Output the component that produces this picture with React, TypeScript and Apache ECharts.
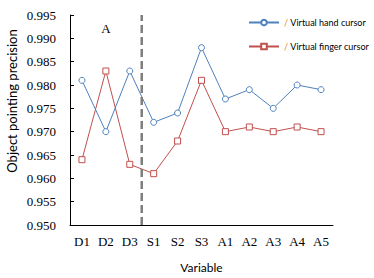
import React, { useEffect, useRef } from "react";
import * as echarts from "echarts";

const categories = ["D1", "D2", "D3", "S1", "S2", "S3", "A1", "A2", "A3", "A4", "A5"];
const handCursor = [0.981, 0.970, 0.983, 0.972, 0.974, 0.988, 0.977, 0.979, 0.975, 0.980, 0.979];
const fingerCursor = [0.964, 0.983, 0.963, 0.961, 0.968, 0.981, 0.970, 0.971, 0.970, 0.971, 0.970];
const seriesNames = ["Virtual hand cursor", "Virtual finger cursor"];
const dividerAt = 3; // boundary between D3 and S1 (category count)
const yMin = 0.95;
const yMax = 0.995;
const yStep = 0.005;

export default function App() {
  const ref = useRef<HTMLDivElement>(null);
  useEffect(() => {
    if (!ref.current) return;
    const chart = echarts.init(ref.current, null, { renderer: "svg" });
    const serif = "Liberation Serif";
    const sans = "Lato";
    chart.setOption({
      animation: false,
      backgroundColor: "#ffffff",
      grid: { left: 70, right: 41, top: 15, bottom: 48 },
      legend: {
        data: seriesNames,
        orient: "vertical",
        left: 248,
        top: 18,
        padding: 0,
        itemWidth: 30,
        itemHeight: 7,
        itemGap: 15,
        formatter: (name: string) => `{s|/} {t|${name}}`,
        textStyle: {
          fontFamily: sans,
          fontSize: 9,
          color: "#000",
          rich: {
            s: { color: "#e08a1e", fontFamily: sans, fontSize: 9 },
            t: { color: "#000", fontFamily: sans, fontSize: 9 },
          },
        },
      },
      graphic: [
        {
          type: "text",
          x: 12,
          y: 101,
          rotation: Math.PI / 2,
          style: {
            text: "Object pointing precision",
            fontFamily: sans,
            fontSize: 13,
            fill: "#000",
            textAlign: "center",
            textVerticalAlign: "middle",
          },
        },
        {
          type: "text",
          x: 106,
          y: 28,
          style: {
            text: "A",
            fontFamily: serif,
            fontSize: 13,
            fill: "#000",
            textAlign: "center",
            textVerticalAlign: "middle",
          },
        },
      ],
      xAxis: [
        {
          type: "category",
          data: categories,
          boundaryGap: true,
          name: "Variable",
          nameLocation: "middle",
          nameGap: 36,
          nameTextStyle: { fontFamily: sans, fontSize: 12, color: "#000" },
          axisLine: { lineStyle: { color: "#000", width: 1 } },
          axisTick: { inside: true, length: 4, lineStyle: { color: "#000" } },
          axisLabel: { fontFamily: serif, fontSize: 13, color: "#000", margin: 10 },
          splitLine: { show: false },
        },
        {
          type: "value",
          min: 0,
          max: categories.length,
          show: false,
          position: "bottom",
        },
      ],
      yAxis: {
        type: "value",
        min: yMin,
        max: yMax,
        interval: yStep,
        axisLine: { show: true, lineStyle: { color: "#000", width: 1 } },
        axisTick: { show: true, inside: true, length: 4, lineStyle: { color: "#000" } },
        axisLabel: {
          fontFamily: serif,
          fontSize: 13,
          color: "#000",
          margin: 14,
          formatter: (v: number) => v.toFixed(3),
        },
        splitLine: { show: false },
      },
      series: [
        {
          name: seriesNames[0],
          type: "line",
          data: handCursor,
          symbol: "circle",
          symbolSize: 6,
          showAllSymbol: true,
          lineStyle: { color: "#4F81BD", width: 1 },
          itemStyle: { color: "#ffffff", borderColor: "#4F81BD", borderWidth: 1 },
        },
        {
          name: seriesNames[1],
          type: "line",
          data: fingerCursor,
          symbol: "rect",
          symbolSize: 6,
          showAllSymbol: true,
          lineStyle: { color: "#C0504D", width: 1 },
          itemStyle: { color: "#ffffff", borderColor: "#C0504D", borderWidth: 1 },
        },
        {
          name: "divider",
          type: "line",
          xAxisIndex: 1,
          data: [
            [dividerAt, yMin],
            [dividerAt, yMax],
          ],
          symbol: "none",
          lineStyle: { color: "#7f7f7f", width: 2.5, type: [8, 4] },
          silent: true,
        },
      ],
    });
    return () => chart.dispose();
  }, []);
  return (
    <div
      ref={ref}
      style={{ position: "absolute", left: 0, top: 0, width: 374, height: 278 }}
    />
  );
}
